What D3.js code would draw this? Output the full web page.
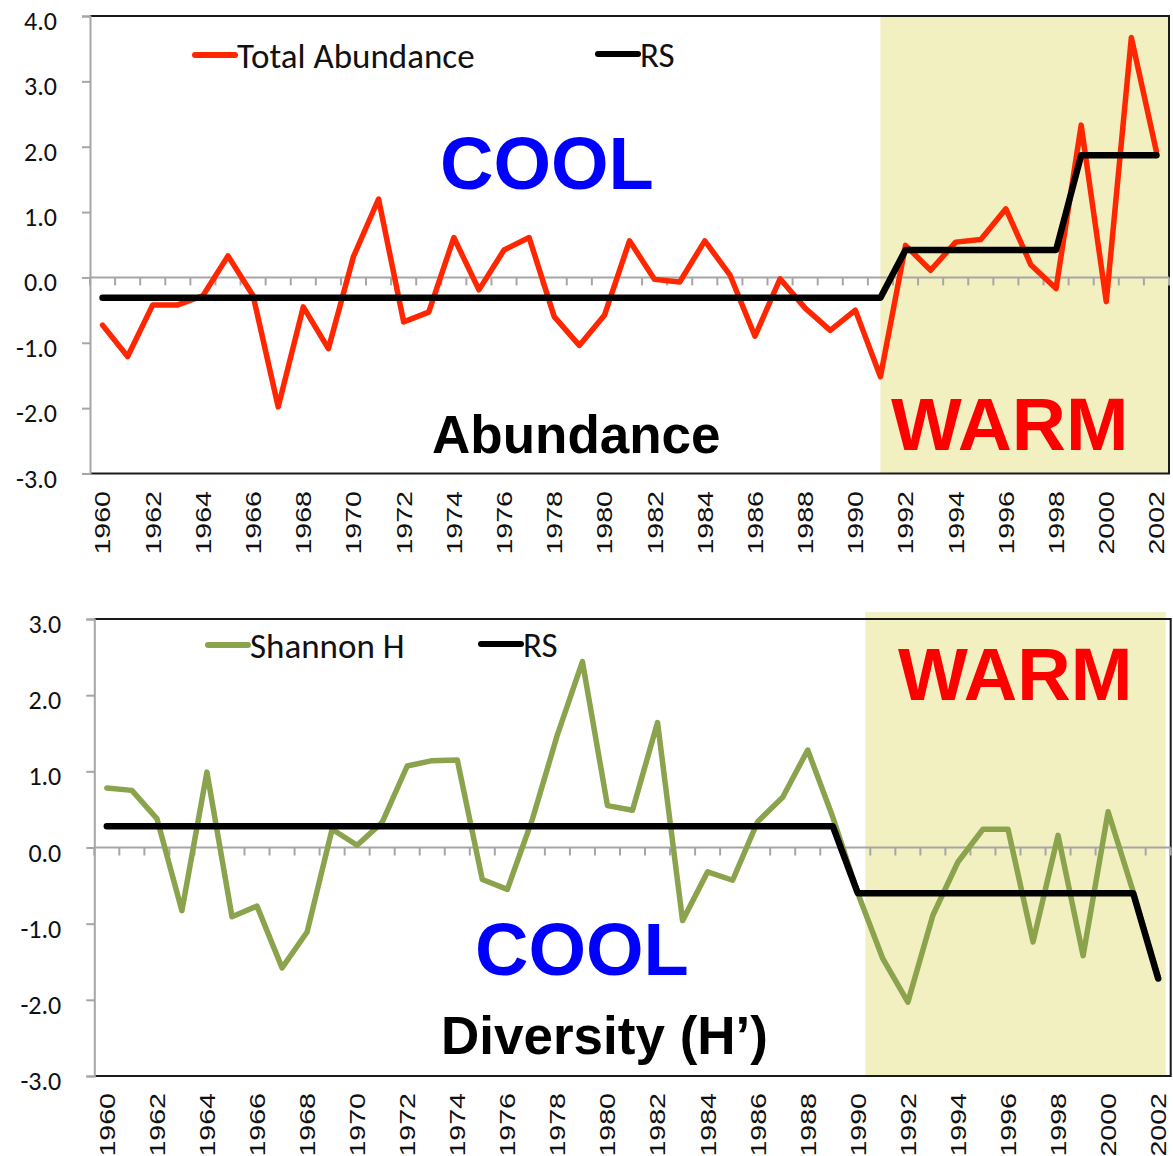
<!DOCTYPE html>
<html>
<head>
<meta charset="utf-8">
<script src="https://cdn.jsdelivr.net/npm/d3@7"></script>
<style>
  html, body { margin: 0; padding: 0; background: #ffffff; }
  svg { display: block; }
</style>
</head>
<body>
<svg id="chart" width="1173" height="1156"></svg>
<script>
// Years sampled (one value per year)
const years = [1960, 1961, 1962, 1963, 1964, 1965, 1966, 1967, 1968, 1969,
               1970, 1971, 1972, 1973, 1974, 1975, 1976, 1977, 1978, 1979,
               1980, 1981, 1982, 1983, 1984, 1985, 1986, 1987, 1988, 1989,
               1990, 1991, 1992, 1993, 1994, 1995, 1996, 1997, 1998, 1999,
               2000, 2001, 2002];

// Standardised total abundance anomaly
const totalAbundance = [-0.73, -1.21, -0.42, -0.42, -0.28, 0.33, -0.28, -1.98, -0.45, -1.09,
                         0.32, 1.20, -0.68, -0.53, 0.61, -0.19, 0.42, 0.61, -0.60, -1.04,
                        -0.58, 0.56, -0.03, -0.07, 0.56, 0.04, -0.90, -0.02, -0.47, -0.81,
                        -0.50, -1.52, 0.49, 0.11, 0.54, 0.58, 1.05, 0.19, -0.17, 2.33,
                        -0.37, 3.67, 1.92];

// Regime shift (RS) means for abundance
const rsAbundance = [-0.31, -0.31, -0.31, -0.31, -0.31, -0.31, -0.31, -0.31, -0.31, -0.31,
                     -0.31, -0.31, -0.31, -0.31, -0.31, -0.31, -0.31, -0.31, -0.31, -0.31,
                     -0.31, -0.31, -0.31, -0.31, -0.31, -0.31, -0.31, -0.31, -0.31, -0.31,
                     -0.31, -0.31, 0.42, 0.42, 0.42, 0.42, 0.42, 0.42, 0.42, 1.87,
                      1.87, 1.87, 1.87];

// Standardised Shannon diversity H'
const shannonH = [0.78, 0.75, 0.38, -0.83, 0.99, -0.91, -0.77, -1.58, -1.11, 0.24,
                  0.03, 0.33, 1.07, 1.14, 1.15, -0.42, -0.55, 0.37, 1.48, 2.44,
                  0.55, 0.49, 1.64, -0.96, -0.32, -0.43, 0.34, 0.66, 1.28, 0.40,
                 -0.60, -1.46, -2.03, -0.89, -0.19, 0.24, 0.24, -1.24, 0.16, -1.42,
                  0.47, -0.58, -1.70];

// Regime shift (RS) means for diversity
const rsShannon = [0.28, 0.28, 0.28, 0.28, 0.28, 0.28, 0.28, 0.28, 0.28, 0.28,
                   0.28, 0.28, 0.28, 0.28, 0.28, 0.28, 0.28, 0.28, 0.28, 0.28,
                   0.28, 0.28, 0.28, 0.28, 0.28, 0.28, 0.28, 0.28, 0.28, 0.28,
                  -0.60, -0.60, -0.60, -0.60, -0.60, -0.60, -0.60, -0.60, -0.60, -0.60,
                  -0.60, -0.60, -1.72];

// Y tick values for each panel
const abundanceTicks = [-3, -2, -1, 0, 1, 2, 3, 4];
const shannonTicks = [-3, -2, -1, 0, 1, 2, 3];

// Labelled years on the category axis
const yearLabels = [1960, 1962, 1964, 1966, 1968, 1970, 1972, 1974, 1976, 1978, 1980,
                    1982, 1984, 1986, 1988, 1990, 1992, 1994, 1996, 1998, 2000, 2002];

// Warm-regime shaded spans (in year units)
const warmAbundance = [1991, 2002.5];
const warmShannon = [1990.3, 2002.3];

const svg = d3.select("#chart");
const SHADE = "#f2efc1";
const AXIS_GREY = "#a6a6a6";
const LEGEND_FONT = "Carlito, Calibri, Lato, sans-serif";
const BOLD_FONT = "'Liberation Sans', Arial, Helvetica, sans-serif";

function drawPanel(cfg) {
  const g = svg.append("g");
  const x = d3.scalePoint().domain(years).range([cfg.left, cfg.right]).padding(0.5);
  const xLin = d3.scaleLinear().domain([years[0] - 0.5, years[years.length - 1] + 0.5])
                 .range([cfg.left, cfg.right]);
  const y = d3.scaleLinear().domain(cfg.yDomain).range([cfg.bottom, cfg.top]);

  // warm regime shading
  g.append("rect")
    .attr("x", xLin(cfg.warm[0]))
    .attr("y", y(cfg.warmTop))
    .attr("width", xLin(cfg.warm[1]) - xLin(cfg.warm[0]))
    .attr("height", y(cfg.yDomain[0]) - y(cfg.warmTop))
    .attr("fill", SHADE);

  // plot frame: top, right, bottom in black
  g.append("path")
    .attr("d", `M${cfg.left},${cfg.top}H${cfg.right}V${cfg.bottom}H${cfg.left}`)
    .attr("fill", "none").attr("stroke", "#1a1a1a").attr("stroke-width", 2);

  // value axis on the left
  const yAxis = d3.axisLeft(y).tickValues(cfg.yTicks).tickSize(8).tickPadding(0)
    .tickFormat(d => d.toFixed(1));
  const ya = g.append("g").attr("transform", `translate(${cfg.left},0)`).call(yAxis);
  ya.select(".domain").attr("stroke", AXIS_GREY).attr("stroke-width", 2);
  ya.selectAll(".tick line").attr("stroke", AXIS_GREY).attr("stroke-width", 2);
  ya.selectAll(".tick text")
    .attr("x", -33).attr("dy", "0.75em").attr("y", -6)
    .attr("font-family", LEGEND_FONT).attr("font-size", 26).attr("fill", "#111");

  // category axis crossing at zero, with ticks between categories
  const y0 = y(0);
  g.append("line")
    .attr("x1", cfg.left).attr("x2", cfg.right).attr("y1", y0).attr("y2", y0)
    .attr("stroke", AXIS_GREY).attr("stroke-width", 2);
  const bounds = d3.range(years.length + 1).map(i => years[0] - 0.5 + i);
  g.append("g").selectAll("line").data(bounds).join("line")
    .attr("x1", d => xLin(d)).attr("x2", d => xLin(d))
    .attr("y1", y0).attr("y2", y0 + 8)
    .attr("stroke", AXIS_GREY).attr("stroke-width", 2);

  // year labels under the frame, rotated
  g.append("g").selectAll("text").data(yearLabels).join("text")
    .attr("transform", d => `translate(${x(d)},${cfg.labelTop}) rotate(-90) scale(1.3,1)`)
    .attr("text-anchor", "end").attr("dy", "0.36em")
    .attr("font-family", BOLD_FONT).attr("font-size", 22).attr("fill", "#111")
    .text(d => d);

  // series line
  const line = d3.line().x((d, i) => x(years[i])).y(d => y(d));
  g.append("path").datum(cfg.series)
    .attr("d", line).attr("fill", "none")
    .attr("stroke", cfg.color).attr("stroke-width", 5.5)
    .attr("stroke-linejoin", "round").attr("stroke-linecap", "round");

  // regime shift means
  g.append("path").datum(cfg.rs)
    .attr("d", line).attr("fill", "none")
    .attr("stroke", "#000").attr("stroke-width", 6.5)
    .attr("stroke-linejoin", "round").attr("stroke-linecap", "round");

  // legend
  const lg = g.append("g");
  cfg.legend.forEach(item => {
    lg.append("line")
      .attr("x1", item.x).attr("x2", item.x + 40).attr("y1", item.y).attr("y2", item.y)
      .attr("stroke", item.color).attr("stroke-width", 6).attr("stroke-linecap", "round");
    lg.append("text")
      .attr("x", item.x + 42).attr("y", item.y + 13)
      .attr("font-family", LEGEND_FONT).attr("font-size", 35).attr("fill", "#111")
      .text(item.label);
  });

  // regime annotations
  cfg.notes.forEach(n => {
    g.append("text")
      .attr("x", n.x).attr("y", n.y)
      .attr("font-family", BOLD_FONT).attr("font-weight", "bold")
      .attr("font-size", n.size).attr("fill", n.color)
      .text(n.text);
  });
}

drawPanel({
  left: 90, right: 1169, top: 16, bottom: 473.5,
  yDomain: [-3, 4], yTicks: abundanceTicks,
  series: totalAbundance, rs: rsAbundance, color: "#ff2600",
  warm: warmAbundance, warmTop: 4,
  labelTop: 491,
  legend: [
    { x: 195, y: 55, color: "#ff2600", label: "Total Abundance" },
    { x: 598, y: 54, color: "#000", label: "RS" }
  ],
  notes: [
    { x: 440, y: 189, size: 74, color: "#0000ff", text: "COOL" },
    { x: 432, y: 453, size: 53, color: "#000", text: "Abundance" },
    { x: 891, y: 450, size: 75, color: "#ff0000", text: "WARM" }
  ]
});

drawPanel({
  left: 94.3, right: 1170.7, top: 619, bottom: 1076,
  yDomain: [-3, 3], yTicks: shannonTicks,
  series: shannonH, rs: rsShannon, color: "#8aa34c",
  warm: warmShannon, warmTop: 3.09,
  labelTop: 1093,
  legend: [
    { x: 208, y: 645, color: "#8aa34c", label: "Shannon H" },
    { x: 481, y: 644, color: "#000", label: "RS" }
  ],
  notes: [
    { x: 898, y: 700, size: 74, color: "#ff0000", text: "WARM" },
    { x: 475, y: 975, size: 74, color: "#0000ff", text: "COOL" },
    { x: 441, y: 1054, size: 53, color: "#000", text: "Diversity (H’)" }
  ]
});
</script>
</body>
</html>
